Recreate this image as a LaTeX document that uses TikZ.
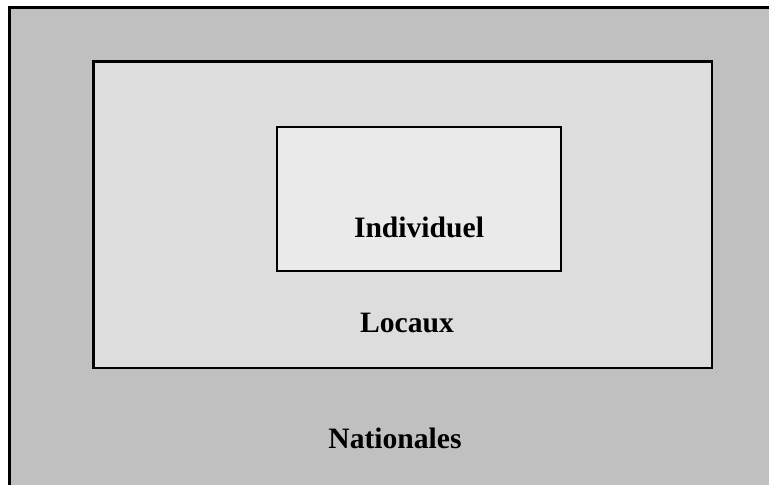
\documentclass[tikz,border=0pt]{standalone}
\usepackage{fontspec}
\setmainfont{Liberation Serif}
\usepackage{tikz}
\usetikzlibrary{calc}
\definecolor{natgray}{HTML}{C0C0C0}
\definecolor{locgray}{HTML}{DDDDDD}
\definecolor{indgray}{HTML}{EAEAEA}

\begin{document}
\begin{tikzpicture}[x=0.75pt,y=-0.75pt,
    lbl/.style={font=\fontsize{22.2}{24}\selectfont\bfseries,inner sep=0pt}]
    \useasboundingbox(0,0)rectangle(769,485);
    \begin{scope}\clip(0,0)rectangle(769,485);
      \draw[line width=2.2pt,fill=natgray](9.5,7.5)rectangle(790,500);
    \end{scope}
    \draw[line width=1.8pt,fill=locgray](93.5,61.5)rectangle(712,368);
    \draw[line width=1.5pt,fill=indgray](276.5,127.5)rectangle(561,271);
    \node[lbl](ind) at (419,227){Individuel};
    \node[lbl](loc) at (407,323){Locaux};
    \node[lbl](nat) at (395,438){Nationales};
  \end{tikzpicture}
\end{document}
